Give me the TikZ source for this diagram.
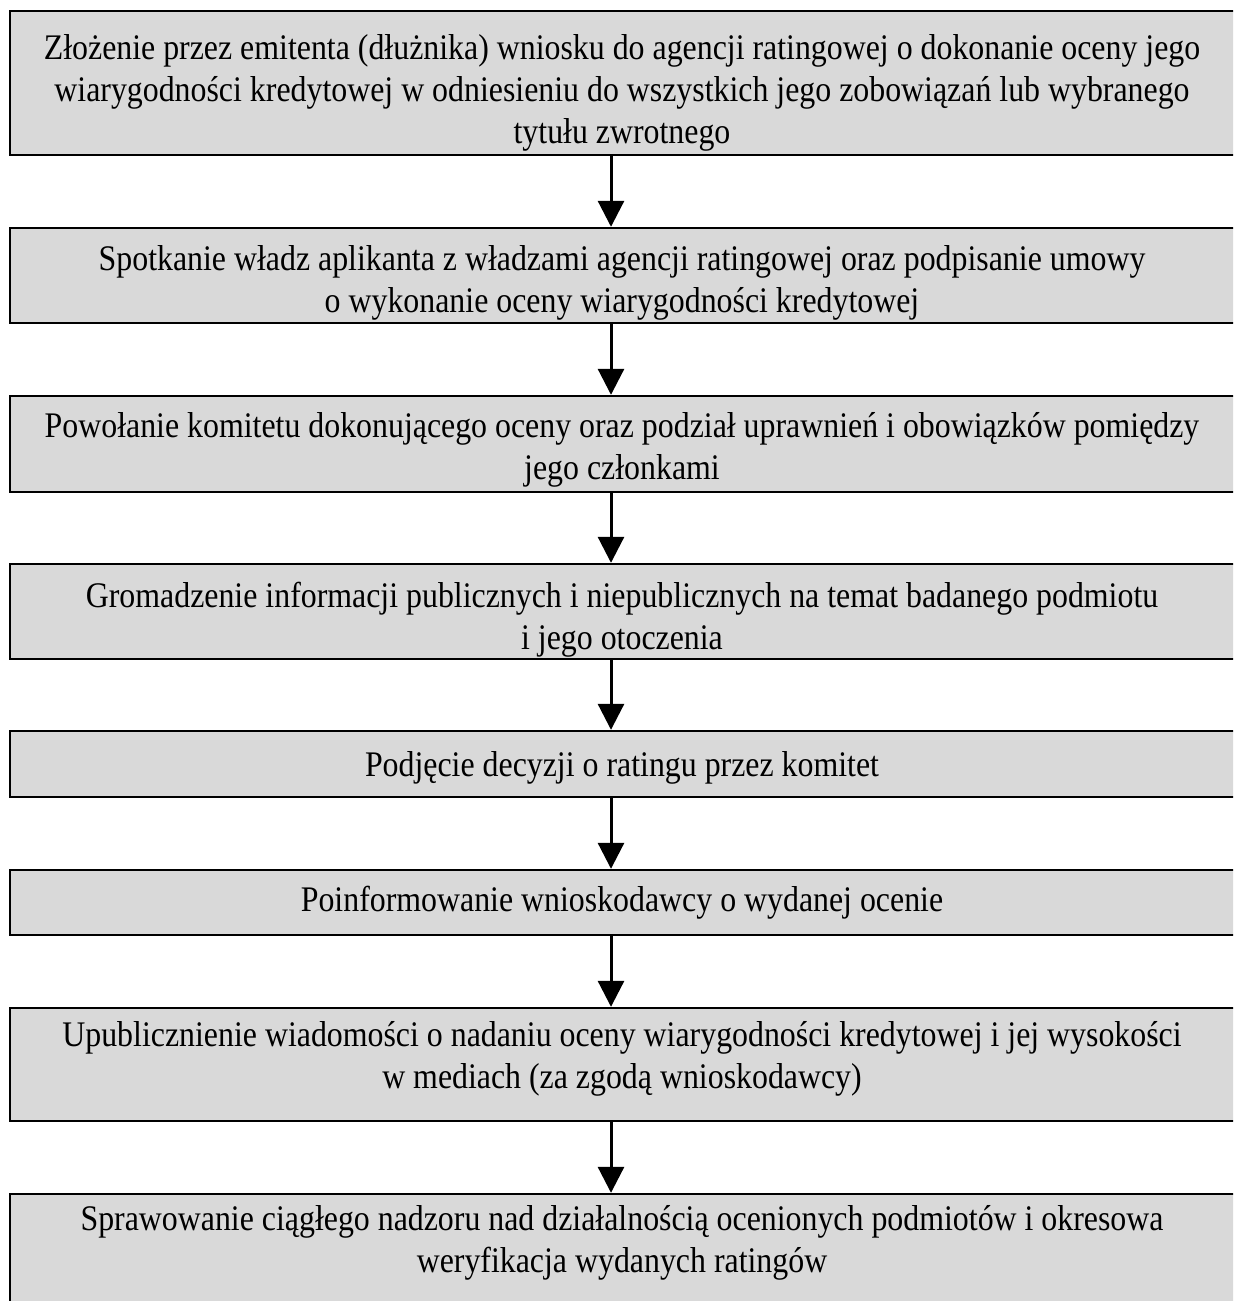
\documentclass[tikz,border=0pt]{standalone}
\usepackage{fontspec}
\setmainfont{Liberation Serif}[FakeStretch=0.885]
\usetikzlibrary{arrows.meta}
\definecolor{boxgray}{HTML}{D9D9D9}
\begin{document}
\begin{tikzpicture}[x=0.5pt,y=-0.5pt,
  stepbox/.style={draw=black, line width=1.2pt, fill=boxgray, rectangle, inner sep=0pt, minimum width=613.5pt},
  steptext/.style={align=center, anchor=base, font=\fontsize{18}{21}\selectfont, inner sep=0pt},
  flow/.style={line width=1.5pt, -{Triangle[width=13pt,length=13pt]}}]
\useasboundingbox (0,0) rectangle (1233,1301);
\clip (0,0) rectangle (1233,1301);
\fill[white] (0,0) rectangle (1233,1301);

% process steps (boxes run past the right and bottom page edges)
\node[stepbox, minimum height=72pt]   (b1) at (623.5,83)     {};
\node[stepbox, minimum height=47.5pt] (b2) at (623.5,275.5)  {};
\node[stepbox, minimum height=48pt]   (b3) at (623.5,444)    {};
\node[stepbox, minimum height=47.5pt] (b4) at (623.5,611.5)  {};
\node[stepbox, minimum height=33pt]   (b5) at (623.5,764)    {};
\node[stepbox, minimum height=32.5pt] (b6) at (623.5,902.5)  {};
\node[stepbox, minimum height=56.5pt] (b7) at (623.5,1064.5) {};
\node[stepbox, minimum height=63pt]   (b8) at (623.5,1257)   {};

% step descriptions, placed by the baseline of their last line
\node[steptext] (t1) at (622,143) {Złożenie przez emitenta (dłużnika) wniosku do agencji ratingowej o dokonanie oceny jego\\wiarygodności kredytowej w odniesieniu do wszystkich jego zobowiązań lub wybranego\\tytułu zwrotnego};
\node[steptext] (t2) at (622,312) {Spotkanie władz aplikanta z władzami agencji ratingowej oraz podpisanie umowy\\o wykonanie oceny wiarygodności kredytowej};
\node[steptext] (t3) at (622,479) {Powołanie komitetu dokonującego oceny oraz podział uprawnień i obowiązków pomiędzy\\jego członkami};
\node[steptext] (t4) at (622,649) {Gromadzenie informacji publicznych i niepublicznych na temat badanego podmiotu\\i jego otoczenia};
\node[steptext] (t5) at (622,776) {Podjęcie decyzji o ratingu przez komitet};
\node[steptext] (t6) at (622,911) {Poinformowanie wnioskodawcy o wydanej ocenie};
\node[steptext] (t7) at (622,1088) {Upublicznienie wiadomości o nadaniu oceny wiarygodności kredytowej i jej wysokości\\w mediach (za zgodą wnioskodawcy)};
\node[steptext] (t8) at (622,1272) {Sprawowanie ciągłego nadzoru nad działalnością ocenionych podmiotów i okresowa\\weryfikacja wydanych ratingów};

% flow arrows along a common vertical axis
\coordinate (axis) at (611,0);
\draw[flow] (b1.south -| axis) -- (b2.north -| axis);
\draw[flow] (b2.south -| axis) -- (b3.north -| axis);
\draw[flow] (b3.south -| axis) -- (b4.north -| axis);
\draw[flow] (b4.south -| axis) -- (b5.north -| axis);
\draw[flow] (b5.south -| axis) -- (b6.north -| axis);
\draw[flow] (b6.south -| axis) -- (b7.north -| axis);
\draw[flow] (b7.south -| axis) -- (b8.north -| axis);
\end{tikzpicture}
\end{document}
